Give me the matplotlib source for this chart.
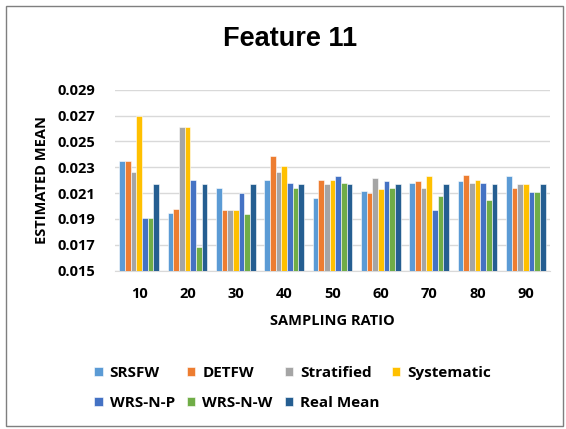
import numpy as np
import matplotlib
matplotlib.use('Agg')
import matplotlib.pyplot as plt
from matplotlib.patches import Rectangle

# Sampling ratios on the x axis
ratios = ['10', '20', '30', '40', '50', '60', '70', '80', '90']

# Estimated mean for each method
srsfw = [0.0235, 0.0195, 0.0214, 0.0220, 0.0206, 0.0212, 0.0218, 0.0219, 0.0223]
detfw = [0.0235, 0.0198, 0.0197, 0.0239, 0.0220, 0.0210, 0.0219, 0.0224, 0.0214]
stratified = [0.0226, 0.0261, 0.0197, 0.0226, 0.0217, 0.0222, 0.0214, 0.0218, 0.0217]
systematic = [0.0270, 0.0261, 0.0197, 0.0231, 0.0220, 0.0213, 0.0223, 0.0220, 0.0217]
wrs_n_p = [0.0191, 0.0220, 0.0210, 0.0218, 0.0223, 0.0219, 0.0197, 0.0218, 0.0211]
wrs_n_w = [0.0191, 0.0168, 0.01935, 0.0214, 0.0218, 0.0214, 0.0208, 0.0205, 0.0211]
real_mean = [0.0217, 0.0217, 0.0217, 0.0217, 0.0217, 0.0217, 0.0217, 0.0217, 0.0217]

series = [
    ('SRSFW', srsfw, '#5B9BD5'),
    ('DETFW', detfw, '#ED7D31'),
    ('Stratified', stratified, '#A5A5A5'),
    ('Systematic', systematic, '#FFC000'),
    ('WRS-N-P', wrs_n_p, '#4472C4'),
    ('WRS-N-W', wrs_n_w, '#70AD47'),
    ('Real Mean', real_mean, '#255E91'),
]

tick_font = 'Open Sans'

fig = plt.figure(figsize=(5.66, 4.29), dpi=100)
ax = fig.add_axes([0.203, 0.369, 0.769, 0.422])

x = np.arange(len(ratios))
n = len(series)
width = 0.82 / n
bars = {}
for i, (name, vals, col) in enumerate(series):
    offs = (i - (n - 1) / 2) * width
    bars[name] = ax.bar(x + offs, vals, width, color=col, edgecolor='white',
                        linewidth=0.4, label=name, zorder=3)

ax.set_ylim(0.015, 0.029)
ax.set_xlim(-0.5, len(ratios) - 0.5)
yt = np.arange(0.015, 0.0291, 0.002)
ax.set_yticks(yt)
ax.set_yticklabels([f'{v:.3f}' for v in yt],
                   fontfamily=tick_font, fontweight='bold', fontsize=10.5)
ax.set_xticks(x)
ax.set_xticklabels(ratios, fontfamily=tick_font, fontweight='bold', fontsize=10.5)
ax.tick_params(axis='y', length=0, pad=14)
ax.tick_params(axis='x', length=0, pad=12)
ax.grid(axis='y', color='#D9D9D9', linewidth=1, zorder=0)
for s in ['top', 'right', 'left']:
    ax.spines[s].set_visible(False)
ax.spines['bottom'].set_color('#D9D9D9')

ax.set_ylabel('ESTIMATED MEAN', fontfamily=tick_font, fontweight='bold',
              fontsize=10.5, labelpad=6)
ax.set_xlabel('SAMPLING RATIO', fontfamily=tick_font, fontweight='bold',
              fontsize=10.5, labelpad=9)

fig.text(0.512, 0.908, 'Feature 11', ha='center', va='center',
         fontfamily='Liberation Sans', fontweight='bold', fontsize=19.5)

# legend, ordered so rows read left to right
order = ['SRSFW', 'WRS-N-P', 'DETFW', 'WRS-N-W', 'Stratified', 'Real Mean', 'Systematic']
leg = fig.legend([bars[k] for k in order], order, ncol=4, loc='center',
                 bbox_to_anchor=(0.517, 0.095), frameon=False,
                 prop={'family': tick_font, 'weight': 'bold', 'size': 11},
                 handlelength=0.55, handleheight=0.55, handletextpad=0.45,
                 columnspacing=0.8, labelspacing=1.05)

# thin border around figure
fig.patches.append(Rectangle((6 / 566, 3 / 429), 557 / 566, 420 / 429,
                             transform=fig.transFigure, fill=False,
                             edgecolor='#7F7F7F', linewidth=1))

fig.savefig('out.png', dpi=100)
